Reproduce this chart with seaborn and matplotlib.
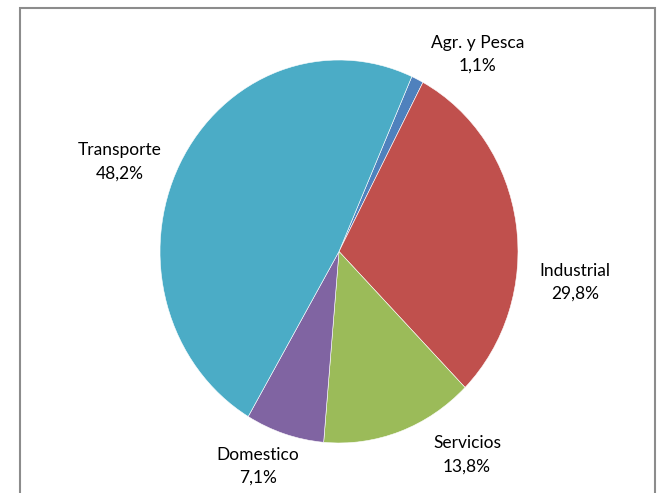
import numpy as np
import matplotlib
matplotlib.use("Agg")
import matplotlib.pyplot as plt
from matplotlib.patches import Rectangle
import seaborn as sns

# datos del consumo por sector
sectores = ["Agr. y Pesca", "Industrial", "Servicios", "Domestico", "Transporte"]
porcentajes = [1.1, 29.8, 13.8, 7.1, 48.2]
colores = ["#4F81BD", "#C0504D", "#9BBB59", "#8064A2", "#4BACC6"]

sns.set_theme(style="white")
plt.rcParams["font.family"] = ["Lato", "DejaVu Sans"]

fig = plt.figure(figsize=(6.6, 4.93), dpi=100)
fig.patch.set_facecolor("white")

# marco gris del grafico (como en Excel)
fig.patches.append(Rectangle((20 / 660, -0.05), 635 / 660, 1.05 - 8 / 493,
                             transform=fig.transFigure, fill=False,
                             edgecolor="#8c8c8c", linewidth=1.5))

ax = fig.add_axes([160 / 660, 50 / 493, 358 / 660, 383 / 493])
ax.pie(porcentajes, colors=colores, startangle=90 - 24, counterclock=False,
       radius=1, wedgeprops=dict(edgecolor="white", linewidth=0.4))
ax.set_aspect("auto")
ax.set_xlim(-1, 1)
ax.set_ylim(-1, 1)
ax.axis("off")

# posiciones de las etiquetas (radio, angulo desde las 12 en sentido horario)
pos_etiquetas = [(1.29, 37), (1.33, 97), (1.28, 146), (1.21, 202), (1.31, 291)]
for nombre, pct, (r, ang) in zip(sectores, porcentajes, pos_etiquetas):
    a = np.deg2rad(ang)
    txt = nombre + "\n" + f"{pct:.1f}".replace(".", ",") + "%"
    ax.text(r * np.sin(a), r * np.cos(a), txt, ha="center", va="center",
            fontsize=12.5, color="black", linespacing=1.55)

fig.savefig("out.png", dpi=100)
